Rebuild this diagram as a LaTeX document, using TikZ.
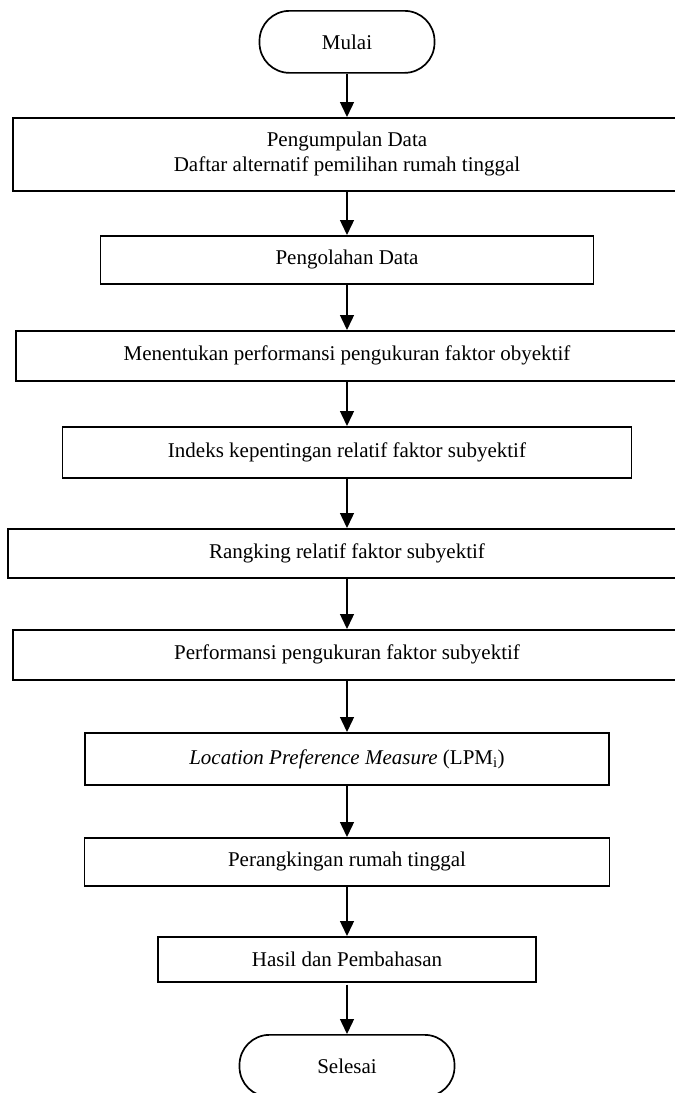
\documentclass[tikz,border=0pt]{standalone}
\usepackage{fontspec}
\setmainfont{Liberation Serif}
\usetikzlibrary{arrows.meta}
\begin{document}
\begin{tikzpicture}[x=1pt,y=-1pt,
  every node/.style={font=\fontsize{21}{25}\selectfont},
  procbox/.style={draw, line width=1.7pt, rectangle, inner sep=0pt, anchor=north, align=center},
  termbox/.style={draw, line width=1.7pt, rectangle, rounded corners=30pt, inner sep=0pt, anchor=north},
  flow/.style={line width=1.4pt, -{Triangle[width=14pt,length=15pt]}}
]
\useasboundingbox (0,0) rectangle (675,1093);
\clip (0,0) rectangle (675,1093);
\node[termbox, minimum width=175pt, minimum height=62pt] (mulai) at (347,10) {Mulai};
\node[procbox, minimum width=668pt, minimum height=73pt] (b1) at (347,117) {Pengumpulan Data\\Daftar alternatif pemilihan rumah tinggal};
\node[procbox, minimum width=493pt, minimum height=48pt] (b2) at (347,235) {Pengolahan Data};
\node[procbox, minimum width=662pt, minimum height=50pt] (b3) at (347,330) {Menentukan performansi pengukuran faktor obyektif};
\node[procbox, minimum width=569pt, minimum height=51pt] (b4) at (347,426) {Indeks kepentingan relatif faktor subyektif};
\node[procbox, minimum width=678pt, minimum height=49pt] (b5) at (347,528) {Rangking relatif faktor subyektif};
\node[procbox, minimum width=668pt, minimum height=50pt] (b6) at (347,629) {Performansi pengukuran faktor subyektif};
\node[procbox, minimum width=524pt, minimum height=52pt] (b7) at (347,732) {\textit{Location Preference Measure} (LPM\textsubscript{i})};
\node[procbox, minimum width=525pt, minimum height=48pt] (b8) at (347,837) {Perangkingan rumah tinggal};
\node[procbox, minimum width=378pt, minimum height=45pt] (b9) at (347,936) {Hasil dan Pembahasan};
\node[termbox, minimum width=215pt, minimum height=62pt] (selesai) at (347,1034) {Selesai};
\draw[flow] (mulai.south) -- (b1.north);
\draw[flow] (b1.south) -- (b2.north);
\draw[flow] (b2.south) -- (b3.north);
\draw[flow] (b3.south) -- (b4.north);
\draw[flow] (b4.south) -- (b5.north);
\draw[flow] (b5.south) -- (b6.north);
\draw[flow] (b6.south) -- (b7.north);
\draw[flow] (b7.south) -- (b8.north);
\draw[flow] (b8.south) -- (b9.north);
\draw[flow] ([yshift=-2pt]b9.south) -- (selesai.north);
\end{tikzpicture}
\end{document}
